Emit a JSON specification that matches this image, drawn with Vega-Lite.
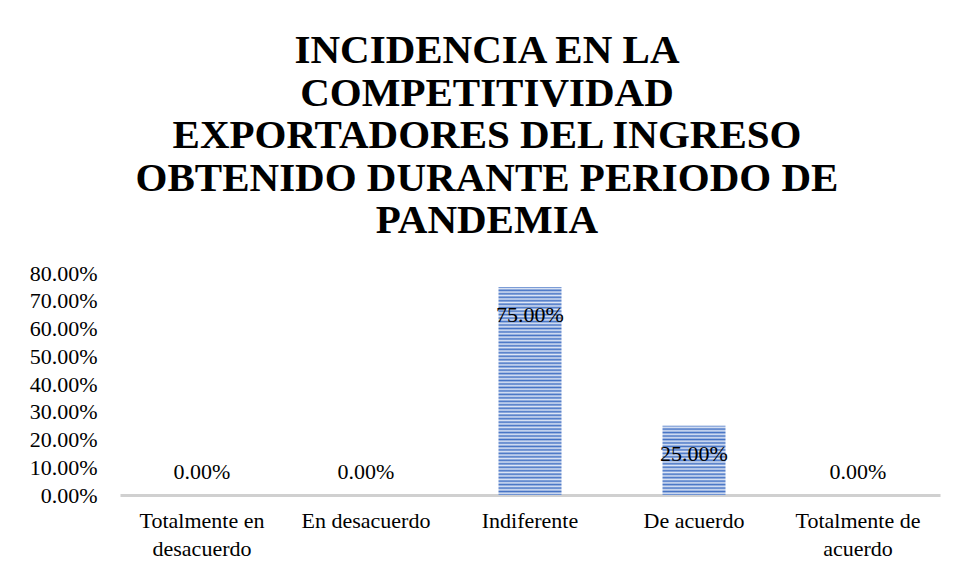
{
  "$schema": "https://vega.github.io/schema/vega-lite/v6.json",
  "autosize": "none",
  "width": 820,
  "height": 222,
  "padding": {"left": 120, "top": 273, "right": 18, "bottom": 83},
  "background": "white",
  "config": {
    "view": {"stroke": null},
    "font": "Liberation Serif"
  },
  "title": {
    "text": ["INCIDENCIA EN LA", "COMPETITIVIDAD", "EXPORTADORES DEL INGRESO", "OBTENIDO DURANTE PERIODO DE", "PANDEMIA"],
    "font": "Times New Roman, Liberation Serif, serif",
    "fontSize": 41,
    "fontWeight": 700,
    "color": "#000000",
    "lineHeight": 42.5,
    "anchor": "middle",
    "frame": "group",
    "dx": -43,
    "offset": 20
  },
  "data": {
    "values": [
      {"cat": "Totalmente en desacuerdo", "value": 0},
      {"cat": "En desacuerdo", "value": 0},
      {"cat": "Indiferente", "value": 0.75},
      {"cat": "De acuerdo", "value": 0.25},
      {"cat": "Totalmente de acuerdo", "value": 0}
    ]
  },
  "encoding": {
    "x": {
      "field": "cat", "type": "nominal", "sort": null,
      "scale": {"paddingInner": 0, "paddingOuter": 0},
      "axis": {
        "title": null, "labelAngle": 0, "ticks": false,
        "domainColor": "#d0d0d0", "domainWidth": 3,
        "labelFont": "Liberation Serif", "labelFontSize": 22, "labelColor": "#000000",
        "labelPadding": 15, "labelLineHeight": 28, "labelBaseline": "top",
        "labelExpr": "datum.value == 'Totalmente en desacuerdo' ? ['Totalmente en', 'desacuerdo'] : datum.value == 'Totalmente de acuerdo' ? ['Totalmente de', 'acuerdo'] : datum.value"
      }
    },
    "y": {
      "field": "value", "type": "quantitative",
      "scale": {"domain": [0, 0.8], "nice": false},
      "axis": {
        "title": null, "format": ".2%", "values": [0, 0.1, 0.2, 0.3, 0.4, 0.5, 0.6, 0.7, 0.8],
        "domain": false, "ticks": false, "grid": false,
        "labelFont": "Liberation Serif", "labelFontSize": 22, "labelColor": "#000000",
        "labelPadding": 23
      }
    }
  },
  "layer": [
    {
      "mark": {"type": "bar", "size": 63, "stroke": null},
      "encoding": {
        "fill": {
          "condition": {
            "test": "datum.cat === 'Indiferente'",
            "value": {"gradient": "linear", "x1": 0, "y1": 0, "x2": 0, "y2": 1, "stops": [
              {"offset": 0, "color": "#4472c4"}, {"offset": 0.0083, "color": "#dfe7f6"}, {"offset": 0.0167, "color": "#4472c4"}, {"offset": 0.025, "color": "#dfe7f6"}, {"offset": 0.0333, "color": "#4472c4"}, {"offset": 0.0417, "color": "#dfe7f6"}, {"offset": 0.05, "color": "#4472c4"}, {"offset": 0.0583, "color": "#dfe7f6"}, {"offset": 0.0667, "color": "#4472c4"}, {"offset": 0.075, "color": "#dfe7f6"}, {"offset": 0.0833, "color": "#4472c4"}, {"offset": 0.0917, "color": "#dfe7f6"},
              {"offset": 0.1, "color": "#4472c4"}, {"offset": 0.1083, "color": "#dfe7f6"}, {"offset": 0.1167, "color": "#4472c4"}, {"offset": 0.125, "color": "#dfe7f6"}, {"offset": 0.1333, "color": "#4472c4"}, {"offset": 0.1417, "color": "#dfe7f6"}, {"offset": 0.15, "color": "#4472c4"}, {"offset": 0.1583, "color": "#dfe7f6"}, {"offset": 0.1667, "color": "#4472c4"}, {"offset": 0.175, "color": "#dfe7f6"}, {"offset": 0.1833, "color": "#4472c4"}, {"offset": 0.1917, "color": "#dfe7f6"},
              {"offset": 0.2, "color": "#4472c4"}, {"offset": 0.2083, "color": "#dfe7f6"}, {"offset": 0.2167, "color": "#4472c4"}, {"offset": 0.225, "color": "#dfe7f6"}, {"offset": 0.2333, "color": "#4472c4"}, {"offset": 0.2417, "color": "#dfe7f6"}, {"offset": 0.25, "color": "#4472c4"}, {"offset": 0.2583, "color": "#dfe7f6"}, {"offset": 0.2667, "color": "#4472c4"}, {"offset": 0.275, "color": "#dfe7f6"}, {"offset": 0.2833, "color": "#4472c4"}, {"offset": 0.2917, "color": "#dfe7f6"},
              {"offset": 0.3, "color": "#4472c4"}, {"offset": 0.3083, "color": "#dfe7f6"}, {"offset": 0.3167, "color": "#4472c4"}, {"offset": 0.325, "color": "#dfe7f6"}, {"offset": 0.3333, "color": "#4472c4"}, {"offset": 0.3417, "color": "#dfe7f6"}, {"offset": 0.35, "color": "#4472c4"}, {"offset": 0.3583, "color": "#dfe7f6"}, {"offset": 0.3667, "color": "#4472c4"}, {"offset": 0.375, "color": "#dfe7f6"}, {"offset": 0.3833, "color": "#4472c4"}, {"offset": 0.3917, "color": "#dfe7f6"},
              {"offset": 0.4, "color": "#4472c4"}, {"offset": 0.4083, "color": "#dfe7f6"}, {"offset": 0.4167, "color": "#4472c4"}, {"offset": 0.425, "color": "#dfe7f6"}, {"offset": 0.4333, "color": "#4472c4"}, {"offset": 0.4417, "color": "#dfe7f6"}, {"offset": 0.45, "color": "#4472c4"}, {"offset": 0.4583, "color": "#dfe7f6"}, {"offset": 0.4667, "color": "#4472c4"}, {"offset": 0.475, "color": "#dfe7f6"}, {"offset": 0.4833, "color": "#4472c4"}, {"offset": 0.4917, "color": "#dfe7f6"},
              {"offset": 0.5, "color": "#4472c4"}, {"offset": 0.5083, "color": "#dfe7f6"}, {"offset": 0.5167, "color": "#4472c4"}, {"offset": 0.525, "color": "#dfe7f6"}, {"offset": 0.5333, "color": "#4472c4"}, {"offset": 0.5417, "color": "#dfe7f6"}, {"offset": 0.55, "color": "#4472c4"}, {"offset": 0.5583, "color": "#dfe7f6"}, {"offset": 0.5667, "color": "#4472c4"}, {"offset": 0.575, "color": "#dfe7f6"}, {"offset": 0.5833, "color": "#4472c4"}, {"offset": 0.5917, "color": "#dfe7f6"},
              {"offset": 0.6, "color": "#4472c4"}, {"offset": 0.6083, "color": "#dfe7f6"}, {"offset": 0.6167, "color": "#4472c4"}, {"offset": 0.625, "color": "#dfe7f6"}, {"offset": 0.6333, "color": "#4472c4"}, {"offset": 0.6417, "color": "#dfe7f6"}, {"offset": 0.65, "color": "#4472c4"}, {"offset": 0.6583, "color": "#dfe7f6"}, {"offset": 0.6667, "color": "#4472c4"}, {"offset": 0.675, "color": "#dfe7f6"}, {"offset": 0.6833, "color": "#4472c4"}, {"offset": 0.6917, "color": "#dfe7f6"},
              {"offset": 0.7, "color": "#4472c4"}, {"offset": 0.7083, "color": "#dfe7f6"}, {"offset": 0.7167, "color": "#4472c4"}, {"offset": 0.725, "color": "#dfe7f6"}, {"offset": 0.7333, "color": "#4472c4"}, {"offset": 0.7417, "color": "#dfe7f6"}, {"offset": 0.75, "color": "#4472c4"}, {"offset": 0.7583, "color": "#dfe7f6"}, {"offset": 0.7667, "color": "#4472c4"}, {"offset": 0.775, "color": "#dfe7f6"}, {"offset": 0.7833, "color": "#4472c4"}, {"offset": 0.7917, "color": "#dfe7f6"},
              {"offset": 0.8, "color": "#4472c4"}, {"offset": 0.8083, "color": "#dfe7f6"}, {"offset": 0.8167, "color": "#4472c4"}, {"offset": 0.825, "color": "#dfe7f6"}, {"offset": 0.8333, "color": "#4472c4"}, {"offset": 0.8417, "color": "#dfe7f6"}, {"offset": 0.85, "color": "#4472c4"}, {"offset": 0.8583, "color": "#dfe7f6"}, {"offset": 0.8667, "color": "#4472c4"}, {"offset": 0.875, "color": "#dfe7f6"}, {"offset": 0.8833, "color": "#4472c4"}, {"offset": 0.8917, "color": "#dfe7f6"},
              {"offset": 0.9, "color": "#4472c4"}, {"offset": 0.9083, "color": "#dfe7f6"}, {"offset": 0.9167, "color": "#4472c4"}, {"offset": 0.925, "color": "#dfe7f6"}, {"offset": 0.9333, "color": "#4472c4"}, {"offset": 0.9417, "color": "#dfe7f6"}, {"offset": 0.95, "color": "#4472c4"}, {"offset": 0.9583, "color": "#dfe7f6"}, {"offset": 0.9667, "color": "#4472c4"}, {"offset": 0.975, "color": "#dfe7f6"}, {"offset": 0.9833, "color": "#4472c4"}, {"offset": 0.9917, "color": "#dfe7f6"},
              {"offset": 1, "color": "#4472c4"}
            ]}
          },
          "value": {"gradient": "linear", "x1": 0, "y1": 0, "x2": 0, "y2": 1, "stops": [
            {"offset": 0, "color": "#4472c4"}, {"offset": 0.025, "color": "#dfe7f6"}, {"offset": 0.05, "color": "#4472c4"}, {"offset": 0.075, "color": "#dfe7f6"},
            {"offset": 0.1, "color": "#4472c4"}, {"offset": 0.125, "color": "#dfe7f6"}, {"offset": 0.15, "color": "#4472c4"}, {"offset": 0.175, "color": "#dfe7f6"},
            {"offset": 0.2, "color": "#4472c4"}, {"offset": 0.225, "color": "#dfe7f6"}, {"offset": 0.25, "color": "#4472c4"}, {"offset": 0.275, "color": "#dfe7f6"},
            {"offset": 0.3, "color": "#4472c4"}, {"offset": 0.325, "color": "#dfe7f6"}, {"offset": 0.35, "color": "#4472c4"}, {"offset": 0.375, "color": "#dfe7f6"},
            {"offset": 0.4, "color": "#4472c4"}, {"offset": 0.425, "color": "#dfe7f6"}, {"offset": 0.45, "color": "#4472c4"}, {"offset": 0.475, "color": "#dfe7f6"},
            {"offset": 0.5, "color": "#4472c4"}, {"offset": 0.525, "color": "#dfe7f6"}, {"offset": 0.55, "color": "#4472c4"}, {"offset": 0.575, "color": "#dfe7f6"},
            {"offset": 0.6, "color": "#4472c4"}, {"offset": 0.625, "color": "#dfe7f6"}, {"offset": 0.65, "color": "#4472c4"}, {"offset": 0.675, "color": "#dfe7f6"},
            {"offset": 0.7, "color": "#4472c4"}, {"offset": 0.725, "color": "#dfe7f6"}, {"offset": 0.75, "color": "#4472c4"}, {"offset": 0.775, "color": "#dfe7f6"},
            {"offset": 0.8, "color": "#4472c4"}, {"offset": 0.825, "color": "#dfe7f6"}, {"offset": 0.85, "color": "#4472c4"}, {"offset": 0.875, "color": "#dfe7f6"},
            {"offset": 0.9, "color": "#4472c4"}, {"offset": 0.925, "color": "#dfe7f6"}, {"offset": 0.95, "color": "#4472c4"}, {"offset": 0.975, "color": "#dfe7f6"},
            {"offset": 1, "color": "#4472c4"}
          ]}
        }
      }
    },
    {
      "transform": [{"filter": "datum.value > 0"}],
      "mark": {"type": "text", "font": "Liberation Serif", "fontSize": 22, "color": "#000000", "baseline": "middle", "dy": 28},
      "encoding": {"text": {"field": "value", "type": "quantitative", "format": ".2%"}}
    },
    {
      "transform": [{"filter": "datum.value == 0"}],
      "mark": {"type": "text", "font": "Liberation Serif", "fontSize": 22, "color": "#000000", "baseline": "middle", "dy": -23},
      "encoding": {"text": {"field": "value", "type": "quantitative", "format": ".2%"}}
    }
  ]
}
